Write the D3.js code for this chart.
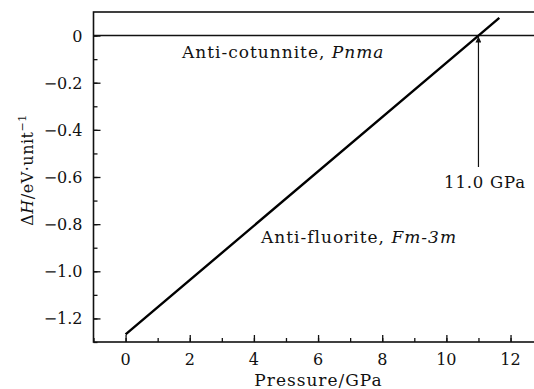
<!DOCTYPE html>
<html>
<head>
<meta charset="utf-8">
<script src="https://cdn.jsdelivr.net/npm/d3@7"></script>
<style>
  body { margin: 0; background: #fff; }
  svg text { font-family: "DejaVu Serif", "Liberation Serif", serif; fill: #111; }
</style>
</head>
<body>
<svg id="chart" width="534" height="389"></svg>
<script>
// data
const pressure = [0, 11.0, 11.65];
const deltaH = [-1.268, 0, 0.075];
const xTicks = [0, 2, 4, 6, 8, 10, 12];
const yTicks = [0, -0.2, -0.4, -0.6, -0.8, -1.0, -1.2];
const transitionP = 11.0;

const svg = d3.select("#chart");
const m = {left: 93.5, top: 12, right: 545, bottom: 342};

const x = d3.scaleLinear().domain([-1, 13]).range([m.left, m.left + 14 * 32.08]);
const y = d3.scaleLinear().domain([-1.3, 0.1]).range([m.bottom, m.top]);

const fmtY = d => d === 0 ? "0" : "\u2212" + Math.abs(d).toFixed(1);

// bottom axis with inward ticks
const gx = svg.append("g").attr("transform", `translate(0,${m.bottom})`);
gx.call(d3.axisBottom(x).tickValues(d3.range(-1, 14)).tickSize(-4).tickFormat(""));
gx.call(g => g.append("g").call(d3.axisBottom(x).tickValues(xTicks).tickSize(-7).tickFormat("")));
gx.selectAll(".domain").remove();
gx.selectAll("line").attr("stroke", "#111").attr("stroke-width", 1.3);
xTicks.forEach(t => {
  gx.append("text").attr("x", x(t)).attr("y", 23).attr("text-anchor", "middle")
    .attr("font-size", 16).text(t);
});

// left axis with inward ticks
const gy = svg.append("g").attr("transform", `translate(${m.left},0)`);
gy.call(d3.axisLeft(y).tickValues(d3.range(-13, 1).map(d => d / 10)).tickSize(-4).tickFormat(""));
gy.call(g => g.append("g").call(d3.axisLeft(y).tickValues(yTicks).tickSize(-7).tickFormat("")));
gy.selectAll(".domain").remove();
gy.selectAll("line").attr("stroke", "#111").attr("stroke-width", 1.3);
yTicks.forEach(t => {
  gy.append("text").attr("x", -11).attr("y", y(t) + 6).attr("text-anchor", "end")
    .attr("font-size", 16).text(fmtY(t));
});

// frame
svg.append("rect").attr("x", m.left).attr("y", m.top)
  .attr("width", m.right - m.left).attr("height", m.bottom - m.top)
  .attr("fill", "none").attr("stroke", "#111").attr("stroke-width", 1.6);

// reference line (anti-cotunnite)
svg.append("line").attr("x1", m.left).attr("x2", m.right)
  .attr("y1", y(0)).attr("y2", y(0)).attr("stroke", "#111").attr("stroke-width", 1.6);

// anti-fluorite line
svg.append("path")
  .datum(pressure.map((p, i) => [p, deltaH[i]]))
  .attr("fill", "none").attr("stroke", "#000").attr("stroke-width", 2.4)
  .attr("d", d3.line().x(d => x(d[0])).y(d => y(d[1])));

// arrow
svg.append("defs").append("marker").attr("id", "ah")
  .attr("viewBox", "0 0 10 10").attr("refX", 10).attr("refY", 5)
  .attr("markerWidth", 10).attr("markerHeight", 6).attr("orient", "auto")
  .attr("markerUnits", "userSpaceOnUse")
  .append("path").attr("d", "M0,0 L10,5 L0,10 Z").attr("fill", "#111");
svg.append("line").attr("x1", x(transitionP)).attr("x2", x(transitionP))
  .attr("y1", 167).attr("y2", y(0) + 1)
  .attr("stroke", "#111").attr("stroke-width", 1.2).attr("marker-end", "url(#ah)");

svg.append("text").attr("x", 485).attr("y", 188).attr("text-anchor", "middle")
  .attr("font-size", 16.5).attr("letter-spacing", 0.8).text("11.0 GPa");

// labels
const lab1 = svg.append("text").attr("x", 182).attr("y", 58)
  .attr("font-size", 17).attr("letter-spacing", 1);
lab1.append("tspan").text("Anti-cotunnite, ");
lab1.append("tspan").attr("font-style", "italic").text("Pnma");

const lab2 = svg.append("text").attr("x", 261).attr("y", 243)
  .attr("font-size", 17).attr("letter-spacing", 1);
lab2.append("tspan").text("Anti-fluorite, ");
lab2.append("tspan").attr("font-style", "italic").text("Fm-3m");

// axis titles
svg.append("text").attr("x", 318.5).attr("y", 386).attr("text-anchor", "middle")
  .attr("font-size", 17).attr("letter-spacing", 1).text("Pressure/GPa");

const yt = svg.append("text").attr("transform", "translate(33,170) rotate(-90)")
  .attr("text-anchor", "middle").attr("font-size", 16).attr("letter-spacing", 0.5);
yt.append("tspan").text("\u0394");
yt.append("tspan").attr("font-style", "italic").text("H");
yt.append("tspan").text("/eV\u00b7unit");
yt.append("tspan").attr("font-size", 11).attr("dy", -7).text("\u22121");
</script>
</body>
</html>
